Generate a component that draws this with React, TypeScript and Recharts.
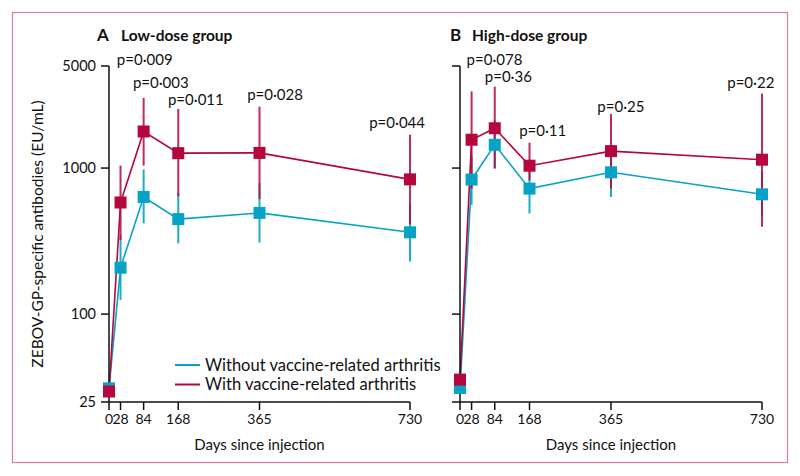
import React from 'react';
import { LineChart, Line, XAxis, YAxis, ErrorBar, ReferenceDot } from 'recharts';

const FONT = 'Lato, "Open Sans", sans-serif';
const CYAN = '#06a3c6';
const RED = '#b5073d';
const INK = '#111';

const days = [0, 28, 84, 168, 365, 730];
const yTicks = [25, 100, 1000, 5000];
const seriesNames = ['Without vaccine-related arthritis', 'With vaccine-related arthritis'];

// A: low-dose group (geometric means with 95% CI)
const lowWithout = [31, 208, 634, 447, 493, 363];
const lowWithoutLo = [31, 125, 418, 305, 309, 229];
const lowWithoutHi = [31, 347, 980, 675, 790, 572];
const lowWith = [29.5, 581, 1780, 1265, 1270, 837];
const lowWithLo = [29.5, 322, 1040, 641, 615, 413];
const lowWithHi = [29.5, 1040, 3020, 2540, 2635, 1690];
const lowP = ['p=0·009', 'p=0·003', 'p=0·011', 'p=0·028', 'p=0·044'];
const lowPDay = [19, 58, 143, 335, 631];
const lowPAt = [5490, 3840, 2940, 3180, 2050];

// B: high-dose group
const highWithout = [31.2, 834, 1444, 723, 935, 661];
const highWithoutLo = [31.2, 560, 1000, 489, 634, 468];
const highWithoutHi = [31.2, 1220, 2115, 1082, 1320, 930];
const highWith = [35.6, 1563, 1874, 1038, 1306, 1141];
const highWithLo = [35.6, 724, 990, 824, 724, 396];
const highWithHi = [35.6, 3350, 3608, 1490, 2350, 3240];
const highP = ['p=0·078', 'p=0·36', 'p=0·11', 'p=0·25', 'p=0·22'];
const highPDay = [16, 60, 143, 332, 646];
const highPAt = [5490, 4220, 1808, 2635, 3860];

const buildRows = (
  a: number[], aLo: number[], aHi: number[],
  b: number[], bLo: number[], bHi: number[],
) =>
  days.map((d, i) => ({
    day: d,
    without: a[i],
    withoutErr: [a[i] - aLo[i], aHi[i] - a[i]],
    with: b[i],
    withErr: [b[i] - bLo[i], bHi[i] - b[i]],
  }));

const lowRows = buildRows(lowWithout, lowWithoutLo, lowWithoutHi, lowWith, lowWithLo, lowWithHi);
const highRows = buildRows(highWithout, highWithoutLo, highWithoutHi, highWith, highWithLo, highWithHi);

const square = (color: string) => (props: any) => {
  const { cx, cy, index } = props;
  if (cx == null || cy == null) return <g key={`s-${index}`} />;
  return <rect key={`s-${index}`} x={cx - 6} y={cy - 6} width={12} height={12} fill={color} />;
};

const pText = (text: string) => (props: any) => (
  <text x={props.cx} y={props.cy} dy="0.35em" textAnchor="start" fontFamily={FONT} fontSize={15} fill={INK}>
    {text}
  </text>
);

interface PanelProps {
  rows: ReturnType<typeof buildRows>;
  pLabels: string[];
  pDays: number[];
  pAt: number[];
  showYLabels: boolean;
  width: number;
  margin: { top: number; right: number; bottom: number; left: number };
}

const Panel: React.FC<PanelProps> = ({ rows, pLabels, pDays, pAt, showYLabels, width, margin }) => (
  <LineChart width={width} height={476} data={rows} margin={margin}>
    <XAxis
      dataKey="day"
      type="number"
      domain={[0, 730]}
      ticks={days}
      interval={0}
      height={30}
      tickSize={8}
      tickMargin={4}
      axisLine={{ stroke: INK, strokeWidth: 1.5 }}
      tickLine={{ stroke: INK, strokeWidth: 1.5 }}
      tick={{ fill: INK, fontSize: 14, fontFamily: FONT }}
      label={{ value: 'Days since injection', position: 'bottom', offset: 7, fill: INK, fontSize: 15, fontFamily: FONT }}
    />
    <YAxis
      type="number"
      scale="log"
      domain={[25, 5000]}
      ticks={yTicks}
      interval={0}
      allowDataOverflow
      width={60}
      tickSize={8}
      tickMargin={5}
      axisLine={{ stroke: INK, strokeWidth: 1.5 }}
      tickLine={{ stroke: INK, strokeWidth: 1.5 }}
      tick={{ fill: INK, fontSize: 14.5, fontFamily: FONT }}
      tickFormatter={(v: number) => (showYLabels ? String(v) : '')}
    />
    <Line
      type="linear"
      dataKey="without"
      stroke={CYAN}
      strokeWidth={1.6}
      dot={square(CYAN)}
      activeDot={false}
      isAnimationActive={false}
    >
      <ErrorBar dataKey="withoutErr" direction="y" width={0} stroke={CYAN} strokeWidth={2} strokeOpacity={0.9} />
    </Line>
    <Line
      type="linear"
      dataKey="with"
      stroke={RED}
      strokeWidth={1.6}
      dot={square(RED)}
      activeDot={false}
      isAnimationActive={false}
    >
      <ErrorBar dataKey="withErr" direction="y" width={0} stroke={RED} strokeWidth={2} strokeOpacity={0.85} />
    </Line>
    {pLabels.map((t, i) => (
      <ReferenceDot
        key={t + i}
        x={pDays[i]}
        y={pAt[i]}
        r={0}
        ifOverflow="visible"
        shape={pText(t)}
      />
    ))}
  </LineChart>
);

export default function App() {
  return (
    <div style={{ position: 'absolute', left: 0, top: 0, width: 800, height: 476, background: '#fff', fontFamily: FONT }}>
      <div style={{ position: 'absolute', left: 0, top: 0 }}>
        <Panel
          rows={lowRows}
          pLabels={lowP}
          pDays={lowPDay}
          pAt={lowPAt}
          showYLabels
          width={430}
          margin={{ top: 66, right: 20, bottom: 44, left: 49 }}
        />
      </div>
      <div style={{ position: 'absolute', left: 400, top: 0 }}>
        <Panel
          rows={highRows}
          pLabels={highP}
          pDays={highPDay}
          pAt={highPAt}
          showYLabels={false}
          width={400}
          margin={{ top: 66, right: 38, bottom: 44, left: 0 }}
        />
      </div>
      <svg width={800} height={476} style={{ position: 'absolute', left: 0, top: 0, pointerEvents: 'none' }}>
        <rect x={12.5} y={12.5} width={775} height={450} fill="none" stroke="#e07a97" strokeWidth={1.2} />
        <text x={97} y={41} fontFamily={FONT} fontWeight={700} fontSize={17} fill={INK}>A</text>
        <text x={121} y={41} fontFamily={FONT} fontWeight={700} fontSize={15.5} fill={INK}>Low-dose group</text>
        <text x={450} y={41} fontFamily={FONT} fontWeight={700} fontSize={17} fill={INK}>B</text>
        <text x={472} y={41} fontFamily={FONT} fontWeight={700} fontSize={15.5} fill={INK}>High-dose group</text>
        <text
          x={38}
          y={234}
          transform="rotate(-90 38 234)"
          textAnchor="middle"
          dy="0.35em"
          fontFamily={FONT}
          fontSize={15.5}
          fill={INK}
        >
          ZEBOV-GP-specific antibodies (EU/mL)
        </text>
        {[CYAN, RED].map((c, i) => (
          <g key={c}>
            <line x1={175} x2={200} y1={365 + i * 19.5} y2={365 + i * 19.5} stroke={c} strokeWidth={2} />
            <text x={205} y={365 + i * 19.5} dy="0.35em" fontFamily={FONT} fontSize={16.5} fill={INK}>
              {seriesNames[i]}
            </text>
          </g>
        ))}
      </svg>
    </div>
  );
}
